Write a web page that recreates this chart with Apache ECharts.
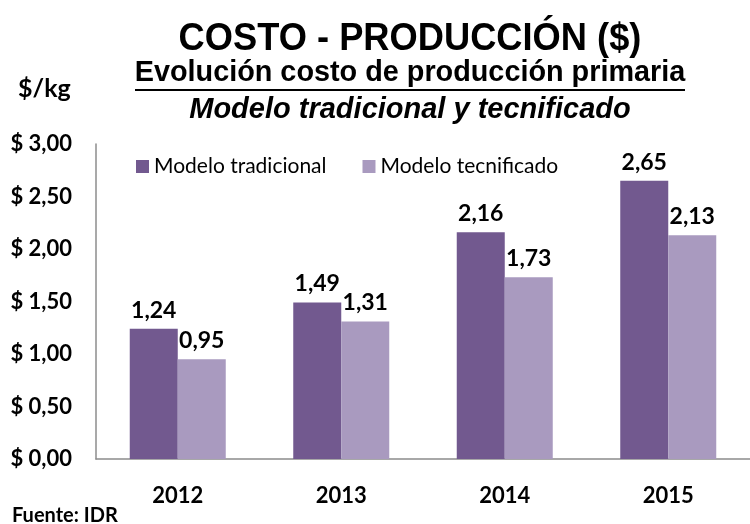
<!DOCTYPE html>
<html>
<head>
<meta charset="utf-8">
<script src="https://cdn.jsdelivr.net/npm/echarts@6/dist/echarts.min.js"></script>
<style>
  html, body { margin: 0; padding: 0; background: #fff; }
  #main { width: 750px; height: 524px; }
</style>
</head>
<body>
<div id="main"></div>
<script>
// datos
var years = ['2012', '2013', '2014', '2015'];
var tradicional = [1.24, 1.49, 2.16, 2.65];
var tecnificado = [0.95, 1.31, 1.73, 2.13];
var seriesNames = ['Modelo tradicional', 'Modelo tecnificado'];

var bodyFont = 'Lato, "Open Sans", sans-serif';
var titleFont = '"Liberation Sans", Arial, sans-serif';

function fmt(v) {
  return v.toFixed(2).replace('.', ',');
}

var chart = echarts.init(document.getElementById('main'));

var labelStyle = {
  show: true,
  position: 'top',
  distance: 7,
  color: '#000',
  fontFamily: bodyFont,
  fontWeight: 'bold',
  fontSize: 23,
  formatter: function (p) { return fmt(p.value); }
};

chart.setOption({
  animation: false,
  backgroundColor: '#fff',
  graphic: [
    {
      type: 'text', x: 410, y: 39, scaleX: 0.93,
      style: { text: 'COSTO - PRODUCCIÓN ($)', font: 'bold 39px ' + titleFont, fill: '#000',
        textAlign: 'center', textVerticalAlign: 'middle' }
    },
    {
      type: 'text', x: 410, y: 73, scaleX: 0.96,
      style: { text: 'Evolución costo de producción primaria', font: 'bold 30px ' + titleFont, fill: '#000',
        textAlign: 'center', textVerticalAlign: 'middle' }
    },
    {
      type: 'line',
      shape: { x1: 135, y1: 90, x2: 685, y2: 90 },
      style: { stroke: '#000', lineWidth: 2 }
    },
    {
      type: 'text', x: 410, y: 110,
      style: { text: 'Modelo tradicional y tecnificado', font: 'italic bold 29px ' + titleFont, fill: '#000',
        textAlign: 'center', textVerticalAlign: 'middle' }
    },
    {
      type: 'text', x: 18, y: 89,
      style: { text: '$/kg', font: 'bold 25px ' + bodyFont, fill: '#000', textVerticalAlign: 'middle' }
    },
    {
      type: 'text', x: 12, y: 516,
      style: { text: 'Fuente: IDR', font: 'bold 20px ' + bodyFont, fill: '#000', textVerticalAlign: 'middle' }
    }
  ],
  legend: {
    data: seriesNames,
    left: 131,
    top: 151,
    icon: 'rect',
    itemWidth: 13,
    itemHeight: 13,
    itemGap: 36,
    textStyle: { fontFamily: bodyFont, fontSize: 21, color: '#000' }
  },
  grid: { left: 96, right: -15, top: 144, bottom: 65, containLabel: false },
  xAxis: {
    type: 'category',
    data: years,
    axisTick: { show: false },
    axisLine: { show: true, lineStyle: { color: '#8c8c8c', width: 1.5 } },
    axisLabel: {
      margin: 26,
      color: '#000',
      fontFamily: bodyFont,
      fontWeight: 'bold',
      fontSize: 22
    }
  },
  yAxis: {
    type: 'value',
    min: 0,
    max: 3,
    interval: 0.5,
    splitLine: { show: false },
    axisTick: { show: false },
    axisLine: { show: true, lineStyle: { color: '#8c8c8c', width: 1.5 } },
    axisLabel: {
      margin: 24,
      color: '#000',
      fontFamily: bodyFont,
      fontWeight: 'bold',
      fontSize: 22,
      formatter: function (v) { return '$ ' + fmt(v); }
    }
  },
  series: [
    {
      name: seriesNames[0],
      type: 'bar',
      data: tradicional,
      barWidth: 48,
      barGap: '0%',
      itemStyle: { color: '#72598F' },
      label: labelStyle
    },
    {
      name: seriesNames[1],
      type: 'bar',
      data: tecnificado,
      barWidth: 48,
      barGap: '0%',
      itemStyle: { color: '#A99ABF' },
      label: labelStyle
    }
  ]
});
</script>
</body>
</html>
